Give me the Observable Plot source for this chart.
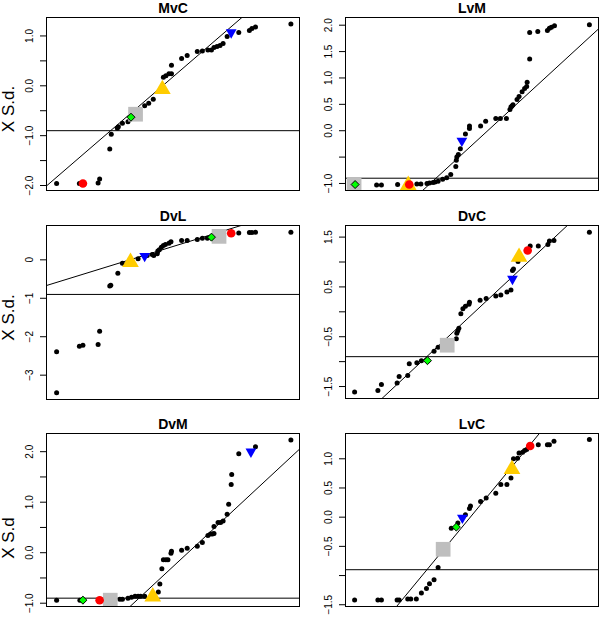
<!DOCTYPE html>
<html><head><meta charset="utf-8">
<script src="https://cdn.jsdelivr.net/npm/d3@7"></script>
<script src="https://cdn.jsdelivr.net/npm/@observablehq/plot@0.6"></script>
<style>
html,body{margin:0;padding:0;background:#fff;}
#chart{position:relative;width:600px;height:617px;overflow:hidden;font-family:"Liberation Sans",Arial,Helvetica,sans-serif;}
#chart svg{position:absolute;}
</style></head><body><div id="chart"></div>
<script>
// ---------- data ----------
const panelTitles = ["MvC", "LvM", "DvL", "DvC", "DvM", "LvC"];
const yAxisLabels = ["X S.d.", null, "X S.d.", null, "X S.d", null];

const mvcX = [-2.30,-1.85,-1.48,-1.45,-1.25,-1.22,-1.10,-1.08,-1.00,-0.89,-0.56,-0.48,-0.39,-0.19,-0.14,-0.08,-0.03,-0.03,0.17,0.28,0.48,0.58,0.69,0.76,0.81,0.87,0.93,0.99,1.07,1.30,1.51,1.56,1.63,2.33];
const mvcY = [-1.96,-1.96,-1.95,-1.87,-1.27,-0.97,-0.85,-0.82,-0.75,-0.72,-0.40,-0.35,-0.27,0.17,0.20,0.24,0.24,0.41,0.55,0.61,0.69,0.70,0.72,0.72,0.77,0.79,0.81,0.85,0.99,1.07,1.11,1.15,1.18,1.24];

const lvmX = [-1.885,-1.79,-1.47,-1.09,-1.01,-0.89,-0.84,-0.77,-0.73,-0.67,-0.58,-0.50,-0.42,-0.32,-0.31,-0.30,-0.27,-0.23,-0.13,-0.05,-0.05,0.17,0.27,0.47,0.56,0.68,0.75,0.77,0.79,0.81,0.89,0.93,0.99,1.04,1.08,1.09,1.14,1.14,1.30,1.49,1.53,1.57,1.63,2.32];
const lvmY = [-1.03,-1.03,-1.02,-1.01,-1.01,-1.00,-0.99,-0.98,-0.97,-0.96,-0.92,-0.89,-0.83,-0.68,-0.56,-0.50,-0.45,-0.34,-0.06,0.04,0.09,0.09,0.18,0.23,0.23,0.23,0.40,0.45,0.47,0.49,0.59,0.65,0.74,0.80,0.84,0.92,1.36,1.86,1.88,1.90,1.94,1.96,1.99,2.01];

const dvlX = [-2.30,-2.30,-1.85,-1.78,-1.48,-1.45,-1.25,-1.23,-1.09,-1.00,-0.69,-0.51,-0.41,-0.38,-0.31,-0.30,-0.27,-0.23,-0.19,-0.15,-0.08,-0.04,0.17,0.28,0.48,0.58,0.68,0.81,1.30,1.51,1.56,1.63,2.33];
const dvlY = [-3.46,-2.39,-2.25,-2.22,-2.20,-1.86,-0.68,-0.66,-0.35,-0.09,0.03,0.11,0.14,0.11,0.16,0.23,0.26,0.33,0.37,0.40,0.43,0.47,0.50,0.50,0.53,0.56,0.56,0.65,0.70,0.71,0.71,0.72,0.72];

const dvcX = [-2.32,-1.86,-1.79,-1.48,-1.44,-1.27,-1.24,-1.09,-1.00,-0.75,-0.67,-0.31,-0.30,-0.28,-0.26,-0.22,-0.18,-0.13,-0.06,-0.05,0.16,0.28,0.47,0.57,0.69,0.77,0.80,0.82,0.91,1.15,1.31,1.50,1.53,1.62,2.32];
const dvcY = [-1.61,-1.58,-1.46,-1.43,-1.30,-1.28,-1.04,-1.02,-0.98,-0.79,-0.71,-0.54,-0.43,-0.38,-0.33,-0.04,0.06,0.11,0.15,0.19,0.23,0.27,0.32,0.34,0.40,0.44,0.83,0.86,1.01,1.32,1.32,1.35,1.42,1.43,1.60];

const dvmX = [-2.30,-1.84,-1.05,-1.00,-0.89,-0.82,-0.75,-0.69,-0.64,-0.56,-0.29,-0.26,-0.22,-0.19,-0.14,-0.10,-0.04,-0.03,0.17,0.28,0.48,0.58,0.69,0.74,0.78,0.81,0.81,0.89,0.94,0.99,1.07,1.10,1.15,1.16,1.30,1.63,2.33];
const dvmY = [-0.94,-0.94,-0.92,-0.92,-0.90,-0.88,-0.86,-0.86,-0.86,-0.86,-0.78,-0.62,-0.32,-0.14,-0.14,-0.14,-0.01,0.03,0.05,0.09,0.13,0.20,0.34,0.37,0.37,0.38,0.52,0.60,0.60,0.63,0.76,0.96,1.35,1.55,1.96,2.10,2.23];

const lvcX = [-2.32,-1.86,-1.79,-1.48,-1.44,-1.27,-1.21,-1.10,-1.00,-0.90,-0.84,-0.75,-0.67,-0.41,-0.28,-0.13,-0.05,-0.03,0.17,0.28,0.47,0.57,0.69,0.77,0.82,0.90,0.93,1.00,1.04,1.08,1.31,1.49,1.53,1.62,2.32];
const lvcY = [-1.42,-1.42,-1.42,-1.42,-1.42,-1.40,-1.40,-1.40,-1.30,-1.22,-1.14,-1.07,-0.86,-0.19,-0.10,0.04,0.15,0.19,0.27,0.33,0.41,0.56,0.56,0.67,1.00,1.01,1.10,1.11,1.14,1.16,1.24,1.24,1.24,1.30,1.33];

// highlighted markers, order: gray square, yellow triangle, blue down-triangle, green diamond, red circle
const markerNames = ["gray", "yellow", "blue", "green", "red"];
const mvcMarkX = [-0.74, -0.21, 1.15, -0.83, -1.78];
const mvcMarkY = [-0.57, -0.07, 1.07, -0.63, -1.96];
const lvmMarkX = [-2.33, -1.26, -0.20, -2.31, -1.24];
const lvmMarkY = [-1.02, -1.03, -0.19, -1.02, -1.02];
const dvlMarkX = [0.91, -0.84, -0.56, 0.76, 1.15];
const dvlMarkY = [0.61, -0.06, 0.10, 0.59, 0.69];
const dvcMarkX = [-0.49, 0.93, 0.80, -0.88, 1.10];
const dvcMarkY = [-0.67, 1.10, 0.66, -0.98, 1.23];
const dvmMarkX = [-1.24, -0.40, 1.54, -1.78, -1.45];
const dvmMarkY = [-0.94, -0.87, 2.00, -0.94, -0.94];
const lvcMarkX = [-0.57, 0.79, -0.19, -0.31, 1.15];
const lvcMarkY = [-0.55, 0.82, -0.01, -0.17, 1.22];

// fitted lines and threshold
const lineSlopes = [0.875, 0.881, 0.406, 0.948, 0.930, 1.050];
const lineIntercepts = [0.179, -0.273, 0.347, -0.053, -0.275, 0.035];
const hLine = -0.9;

// y scales and ticks
const yDomains = [[-2.1, 1.37], [-1.133, 2.146], [-3.633, 0.893], [-1.74, 1.733], [-1.065, 2.36], [-1.53, 1.433]];
const yTicks = [
  [-2, -1.5, -1, -0.5, 0, 0.5, 1],
  [-1, -0.5, 0, 0.5, 1, 1.5, 2],
  [-3, -2, -1, 0],
  [-1.5, -1, -0.5, 0, 0.5, 1, 1.5],
  [-1, -0.5, 0, 0.5, 1, 1.5, 2],
  [-1.5, -1, -0.5, 0, 0.5, 1]
];
const yLabelTicks = [
  [-2, -1, 0, 1],
  [-1, 0, 0.5, 1, 1.5, 2],
  [-3, -2, -1, 0],
  [-1.5, -0.5, 0.5, 1.5],
  [-1, 0, 1, 2],
  [-1.5, -0.5, 0, 0.5, 1]
];
const yLabelTexts = [
  ["\u22122.0", "\u22121.0", "0.0", "1.0"],
  ["\u22121.0", "0.0", "0.5", "1.0", "1.5", "2.0"],
  ["\u22123", "\u22122", "\u22121", "0"],
  ["\u22121.5", "\u22120.5", "0.5", "1.5"],
  ["\u22121.0", "0.0", "1.0", "2.0"],
  ["\u22121.5", "\u22120.5", "0.0", "0.5", "1.0"]
];
const xDomain = [-2.5, 2.5];

const pointsX = [mvcX, lvmX, dvlX, dvcX, dvmX, lvcX];
const pointsY = [mvcY, lvmY, dvlY, dvcY, dvmY, lvcY];
const markX = [mvcMarkX, lvmMarkX, dvlMarkX, dvcMarkX, dvmMarkX, lvcMarkX];
const markY = [mvcMarkY, lvmMarkY, dvlMarkY, dvcMarkY, dvmMarkY, lvcMarkY];

// ---------- layout ----------
const layouts = [
  {left: 0,   top: 0,   width: 300, height: 200, mt: 17, mb: 10, ml: 46, mr: 1, labDy: 5},
  {left: 300, top: 0,   width: 300, height: 200, mt: 17, mb: 10, ml: 45, mr: 2},
  {left: 0,   top: 200, width: 300, height: 210, mt: 25, mb: 11, ml: 46, mr: 1, labDy: 5},
  {left: 300, top: 200, width: 300, height: 210, mt: 25, mb: 12, ml: 45, mr: 2},
  {left: 0,   top: 405, width: 300, height: 212, mt: 28, mb: 11, ml: 46, mr: 1, labDy: 18},
  {left: 300, top: 405, width: 300, height: 212, mt: 28, mb: 11, ml: 45, mr: 2}
];

const downTriangle = {
  draw(ctx, size) {
    const y = -Math.sqrt(size / (3 * Math.sqrt(3)));
    ctx.moveTo(0, -2 * y);
    ctx.lineTo(-Math.sqrt(3) * y, y);
    ctx.lineTo(Math.sqrt(3) * y, y);
    ctx.closePath();
  }
};
const markerStyle = {
  gray:   {symbol: "square",   fill: "#BEBEBE", r: 8.3},
  yellow: {symbol: "triangle", fill: "#FFCC00", r: 6.2},
  blue:   {symbol: downTriangle, fill: "#0000FF", r: 4.0},
  green:  {symbol: "diamond2", fill: "#00FF00", r: 3.6, stroke: "black", strokeWidth: 1},
  red:    {symbol: "circle",   fill: "#FF0000", r: 4.3}
};

const chart = document.getElementById("chart");

panelTitles.forEach((title, i) => {
  const L = layouts[i];
  const pts = pointsX[i].map((x, j) => ({x, y: pointsY[i][j]}));
  const lineData = xDomain.map(x => ({x, y: lineIntercepts[i] + lineSlopes[i] * x}));
  const labelData = yLabelTicks[i].map((v, j) => ({y: v, text: yLabelTexts[i][j]}));
  const marks = [
    Plot.axisY({ticks: yTicks[i], tickSize: 6, tickFormat: () => "", label: null, stroke: "black"}),
    Plot.text(labelData, {y: "y", text: "text", frameAnchor: "left", dx: -17, rotate: -90, textAnchor: "middle", lineAnchor: "middle", fontSize: 10, fill: "black"}),
    Plot.dot(pts, {x: "x", y: "y", r: 2.5, fill: "black", clip: true}),
    Plot.ruleY([hLine], {stroke: "black", strokeWidth: 1}),
    Plot.line(lineData, {x: "x", y: "y", stroke: "black", strokeWidth: 1, clip: true})
  ];
  markerNames.forEach((name, k) => {
    const s = markerStyle[name];
    marks.push(Plot.dot([{x: markX[i][k], y: markY[i][k]}], {x: "x", y: "y", clip: true, ...s}));
  });
  marks.push(Plot.frame({stroke: "black", strokeWidth: 1}));
  marks.push(Plot.text([title], {text: d => d, frameAnchor: "top", dy: -9, lineAnchor: "middle", textAnchor: "middle", fontWeight: "bold", fontSize: 14, fill: "black"}));
  if (yAxisLabels[i]) {
    marks.push(Plot.text([yAxisLabels[i]], {text: d => d, frameAnchor: "left", dx: -38, dy: L.labDy, rotate: -90, textAnchor: "middle", lineAnchor: "middle", fontSize: 17, fill: "black"}));
  }
  const svg = Plot.plot({
    width: L.width, height: L.height,
    marginTop: L.mt, marginBottom: L.mb, marginLeft: L.ml, marginRight: L.mr,
    x: {domain: xDomain, axis: null},
    y: {domain: yDomains[i], axis: null},
    style: {fontFamily: "'Liberation Sans', Arial, Helvetica, sans-serif", background: "white", overflow: "visible"},
    marks
  });
  svg.style.left = L.left + "px";
  svg.style.top = L.top + "px";
  chart.appendChild(svg);
});
</script></body></html>
